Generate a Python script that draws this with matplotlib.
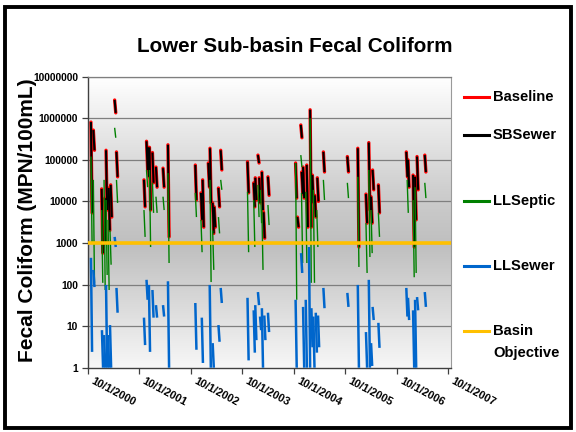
import numpy as np
import pandas as pd
import matplotlib
matplotlib.use("Agg")
import matplotlib.pyplot as plt
from matplotlib.lines import Line2D
from matplotlib.patches import Rectangle
from matplotlib.colors import LinearSegmentedColormap
from matplotlib.transforms import ScaledTranslation

plt.rcParams['font.family'] = ['Liberation Sans', 'DejaVu Sans']

# ---------------- data ----------------
# each event: start date, peak value, value at end of the event
baseline_dates = ['2000-10-24', '2000-11-10', '2001-01-08', '2001-01-30', '2001-02-08', '2001-02-27',
                  '2001-03-13', '2001-04-10', '2001-04-23',
                  '2001-11-04', '2001-11-22', '2001-12-02', '2001-12-13', '2002-01-03', '2002-01-28',
                  '2002-03-19', '2002-04-23',
                  '2002-11-03', '2002-12-13', '2002-12-25', '2003-02-03', '2003-02-15', '2003-03-06',
                  '2003-03-17', '2003-04-16', '2003-05-02',
                  '2003-11-08', '2003-12-22', '2004-01-02', '2004-01-21', '2004-01-30', '2004-02-18',
                  '2004-03-01', '2004-04-01',
                  '2004-10-14', '2004-10-27', '2004-11-20', '2004-11-26', '2004-12-06', '2005-01-01',
                  '2005-01-25', '2005-02-10', '2005-02-27', '2005-03-17', '2005-04-29',
                  '2005-10-16', '2005-12-29', '2006-02-25', '2006-03-17', '2006-04-02', '2006-04-13',
                  '2006-05-24',
                  '2006-12-08', '2006-12-20', '2007-01-25', '2007-02-08', '2007-02-22', '2007-04-18']
baseline_peak = [8.1e5, 5.2e5, 2.0e4, 1.2e4, 1.7e5, 2.1e4, 2.5e4, 2.75e6, 1.55e5,
                 3.3e4, 2.8e5, 2.0e5, 2.0e5, 1.5e5, 6.7e4, 6.3e4, 2.3e5,
                 7.5e4, 1.6e4, 3.3e4, 8.4e4, 1.9e5, 9.2e3, 7.4e3, 2.1e4, 1.7e5,
                 9.0e4, 2.8e4, 3.7e4, 1.3e5, 3.7e4, 5.1e4, 5.5e3, 3.9e4,
                 8.4e4, 4.2e3, 6.9e5, 5.1e4, 6.7e4, 7.5e4, 1.6e6, 4.3e4, 1.4e4, 3.7e4, 1.55e5,
                 1.2e5, 1.9e5, 1.5e4, 2.6e5, 1.3e4, 5.7e4, 2.5e4,
                 1.55e5, 1.0e5, 4.3e4, 3.9e4, 1.2e5, 1.3e5]
baseline_low = [5.3e3, 1.7e5, 5.7e2, 1.0e3, 6.2e3, 2.0e3, 4.2e3, 1.35e6, 3.9e4,
                7.4e3, 5.7e4, 3.9e4, 6.2e3, 2.8e4, 2.2e4, 2.2e4, 1.4e3,
                1.08e4, 3.6e3, 2.4e3, 2.2e4, 9.2e3, 1.7e3, 2.4e3, 7.4e3, 5.7e4,
                1.6e4, 7.4e3, 1.08e4, 8.4e4, 9.2e3, 6.2e3, 1.3e3, 1.4e4,
                1.2e4, 2.4e3, 3.4e5, 1.5e4, 1.2e4, 2.4e3, 2.4e3, 9.2e3, 4.2e3, 1.0e4, 5.1e4,
                5.1e4, 8.0e2, 3.0e3, 6.2e3, 3.0e3, 1.9e4, 5.3e3,
                3.9e4, 2.2e4, 8.0e2, 3.6e3, 1.9e4, 5.1e4]

# SBSewer is practically identical to Baseline in the picture (black over red)
sbsewer_dates = baseline_dates
sbsewer_peak = baseline_peak
sbsewer_low = baseline_low

llseptic_dates = ['2000-10-24', '2000-11-10', '2001-01-08', '2001-01-25', '2001-02-08', '2001-02-22',
                  '2001-03-08', '2001-04-10', '2001-04-23',
                  '2001-11-04', '2001-11-22', '2001-12-13', '2002-01-03', '2002-01-28', '2002-03-19',
                  '2002-04-23',
                  '2002-11-03', '2002-12-13', '2003-02-15', '2003-03-06', '2003-04-16', '2003-05-02',
                  '2003-11-08', '2003-12-22', '2004-01-21', '2004-02-08', '2004-02-18', '2004-04-01',
                  '2004-10-14', '2004-11-20', '2004-11-25', '2004-12-25', '2005-01-25', '2005-02-17',
                  '2005-03-13', '2005-04-29',
                  '2005-10-16', '2005-12-29', '2006-02-25', '2006-03-17', '2006-04-02', '2006-05-24',
                  '2006-12-14', '2007-01-25', '2007-02-08', '2007-04-18']
llseptic_peak = [1.2e5, 3.3e4, 6.2e3, 3.3e4, 1.08e4, 3.6e3, 2.0e3, 5.9e5, 3.3e4,
                 6.2e3, 5.7e4, 5.7e4, 2.8e4, 1.3e4, 1.3e4, 4.8e4,
                 1.6e4, 3.6e3, 3.3e4, 2.0e3, 4.2e3, 3.3e4,
                 1.7e4, 1.08e4, 2.5e4, 1.9e4, 6.2e3, 8.2e3,
                 8.4e4, 1.3e5, 1.6e4, 1.7e4, 1.0e6, 1.9e4, 6.2e3, 3.3e4,
                 2.8e4, 3.9e4, 3.0e3, 5.7e4, 6.2e3, 5.3e3,
                 3.3e4, 1.08e4, 2.2e4, 2.8e4]
llseptic_low = [1.0e3, 1.1e2, 1.1e2, 74, 1.7e2, 74, 3.0e2, 3.4e5, 9.2e3,
                1.4e3, 2.2e4, 8.0e2, 5.3e3, 5.3e3, 6.2e3, 3.3e2,
                4.2e3, 6.0e2, 1.15e2, 2.25e2, 1.7e3, 1.9e4,
                6.0e2, 8.0e2, 4.2e3, 3.0e3, 2.25e2, 2.7e3,
                43, 6.7e4, 3.3e2, 3.3e2, 1.1e2, 1.1e2, 8.0e2, 1.08e4,
                1.2e4, 2.65e2, 1.9e2, 4.6e2, 5.7e2, 1.4e3,
                5.3e3, 1.5e2, 1.9e2, 1.2e4]

llsewer_dates = ['2000-10-24', '2000-11-10', '2001-01-10', '2001-01-25', '2001-02-08', '2001-02-22',
                 '2001-03-08', '2001-04-10', '2001-04-23',
                 '2001-11-04', '2001-11-22', '2001-12-09', '2002-01-03', '2002-01-28', '2002-03-19',
                 '2002-04-23',
                 '2002-11-03', '2002-12-19', '2003-02-13', '2003-03-06', '2003-04-16', '2003-05-02',
                 '2003-11-08', '2003-12-22', '2004-01-02', '2004-01-21', '2004-02-05', '2004-02-18',
                 '2004-03-06', '2004-04-01',
                 '2004-10-14', '2004-11-22', '2004-12-06', '2004-12-25', '2005-01-17', '2005-02-03',
                 '2005-02-17', '2005-03-06', '2005-03-22', '2005-04-29',
                 '2005-10-16', '2005-12-29', '2006-02-25', '2006-03-17', '2006-04-02', '2006-04-13',
                 '2006-05-24',
                 '2006-12-08', '2006-12-20', '2007-01-25', '2007-02-08', '2007-02-22', '2007-04-18']
llsewer_peak = [440, 225, 8, 6.1, 98, 6.1, 10.6, 1400, 83,
                16, 130, 98, 74, 32, 32, 120,
                36, 16, 98, 3.9, 10.6, 83,
                48, 24, 32, 66, 17, 27, 18, 21,
                43, 570, 29, 43, 800, 27, 17, 21, 18, 83,
                63, 98, 7.2, 130, 3.9, 29, 12,
                83, 48, 24, 43, 50, 66]
llsewer_low = [2.4, 87, 1, 1, 1, 1, 1, 800, 21,
               3.5, 43, 2.4, 16, 16, 17, 1,
               2.7, 1.3, 1, 1, 4.2, 36,
               1.5, 2.3, 4.6, 32, 8, 1, 4.6, 7.2,
               1, 190, 1, 1, 1, 3.1, 1, 2.3, 3.1, 27,
               29, 1, 1, 1, 1.1, 14, 3.0,
               17, 14, 1, 1, 24, 29]

basin_objective = 1000
x_start, x_end = '2000-10-01', '2007-10-23'
tick_dates = ['2000-10-01', '2001-10-01', '2002-10-01', '2003-10-01',
              '2004-10-01', '2005-10-01', '2006-10-01', '2007-10-01']
tick_labels = ['10/1/2000', '10/1/2001', '10/1/2002', '10/1/2003',
               '10/1/2004', '10/1/2005', '10/1/2006', '10/1/2007']
y_ticks = [1, 10, 100, 1000, 10000, 100000, 1000000, 10000000]
y_tick_labels = ['1', '10', '100', '1000', '10000', '100000', '1000000', '10000000']
legend_labels = ['Baseline', 'SBSewer', 'LLSeptic', 'LLSewer', 'Basin\nObjective']
event_days = 8

# ---------------- figure ----------------
W, H = 576, 432
fig = plt.figure(figsize=(5.76, 4.32), dpi=100)
fig.patch.set_facecolor('white')

def fx(px):
    return px / W

def fy(py):
    return 1 - py / H

ax = fig.add_axes([fx(87.7), fy(367.7), fx(451.3) - fx(87.7), fy(76.7) - fy(367.7)])
ax.set_yscale('log')
ax.set_ylim(1, 1e7)
x0, x1 = pd.Timestamp(x_start), pd.Timestamp(x_end)
ax.set_xlim(x0, x1)

# gradient background
cmap = LinearSegmentedColormap.from_list('bg', [(0.0, '#f7f7f7'), (0.42, '#bfbfbf'),
                                                (0.6, '#cdcdcd'), (1.0, '#ffffff')])
grad = np.linspace(0, 1, 256).reshape(-1, 1)
ax.imshow(grad, extent=[0, 1, 0, 1], transform=ax.transAxes, origin='lower',
          aspect='auto', cmap=cmap, zorder=0)
ax.set_facecolor('none')

for yv in y_ticks[1:]:
    ax.axhline(yv, color='#7f7f7f', lw=0.9, zorder=1)

def draw(dates, peaks, lows, **kw):
    d = pd.to_datetime(dates)
    for t, p, l in zip(d, peaks, lows):
        ax.plot([t, t + pd.Timedelta(days=event_days)], [p, l], **kw)

draw(baseline_dates, baseline_peak, baseline_low, color='#ff0000', lw=2.4,
     solid_capstyle='round', zorder=2)
draw(sbsewer_dates, sbsewer_peak, sbsewer_low, color='#000000', lw=1.5,
     solid_capstyle='butt', zorder=3)
draw(llseptic_dates, llseptic_peak, llseptic_low, color='#008000', lw=1.0,
     solid_capstyle='butt', zorder=4)
draw(llsewer_dates, llsewer_peak, llsewer_low, color='#0066cc', lw=1.8,
     solid_capstyle='butt', zorder=5)
ax.plot([x0, x1], [basin_objective, basin_objective], color='#ffc000', lw=2.6, zorder=6)

# axes styling
for s in ['left', 'bottom']:
    ax.spines[s].set_color('#404040')
    ax.spines[s].set_linewidth(1.0)
ax.spines['right'].set_color('#9a9a9a')
ax.spines['right'].set_linewidth(0.8)
ax.spines['top'].set_color('#7f7f7f')
ax.spines['top'].set_linewidth(0.9)

ax.set_yticks(y_ticks)
ax.set_yticklabels(y_tick_labels, fontsize=7.4, fontweight='bold')
ax.yaxis.set_minor_locator(matplotlib.ticker.NullLocator())
ax.tick_params(axis='y', direction='out', length=4, width=0.9, color='#404040', pad=3)

ax.set_xticks(pd.to_datetime(tick_dates))
ax.set_xticklabels(tick_labels, fontsize=7.9, fontweight='bold', rotation=-28,
                   ha='left', va='top', rotation_mode='anchor')
ax.tick_params(axis='x', direction='out', length=4, width=0.9, color='#404040', pad=2)
shift = ScaledTranslation(6 / 100, 0, fig.dpi_scale_trans)
for lbl in ax.get_xticklabels():
    lbl.set_transform(lbl.get_transform() + shift)

ax.set_ylabel('Fecal Coliform (MPN/100mL)', fontsize=15, fontweight='bold')
ax.yaxis.set_label_coords(fx(37), fy(220), transform=fig.transFigure)

fig.text(fx(295), fy(47), 'Lower Sub-basin Fecal Coliform', fontsize=14.9, fontweight='bold',
         ha='center', va='center')

# legend (manual)
leg_colors = ['#ff0000', '#000000', '#008000', '#0066cc', '#ffc000']
leg_y = [97, 135, 201, 266, 331]
for lab, col, yy in zip(legend_labels, leg_colors, leg_y):
    fig.add_artist(Line2D([fx(464), fx(489)], [fy(yy), fy(yy)], color=col, lw=2.2,
                          transform=fig.transFigure))
    for k, part in enumerate(lab.split('\n')):
        fig.text(fx(493), fy(yy + 22 * k), part, fontsize=10.6, fontweight='bold',
                 ha='left', va='center')

# outer border
fig.add_artist(Rectangle((fx(5), fy(428)), fx(571) - fx(5), fy(7) - fy(428), fill=False,
                         edgecolor='black', lw=2.8, transform=fig.transFigure))

fig.savefig('out.png', dpi=100)
